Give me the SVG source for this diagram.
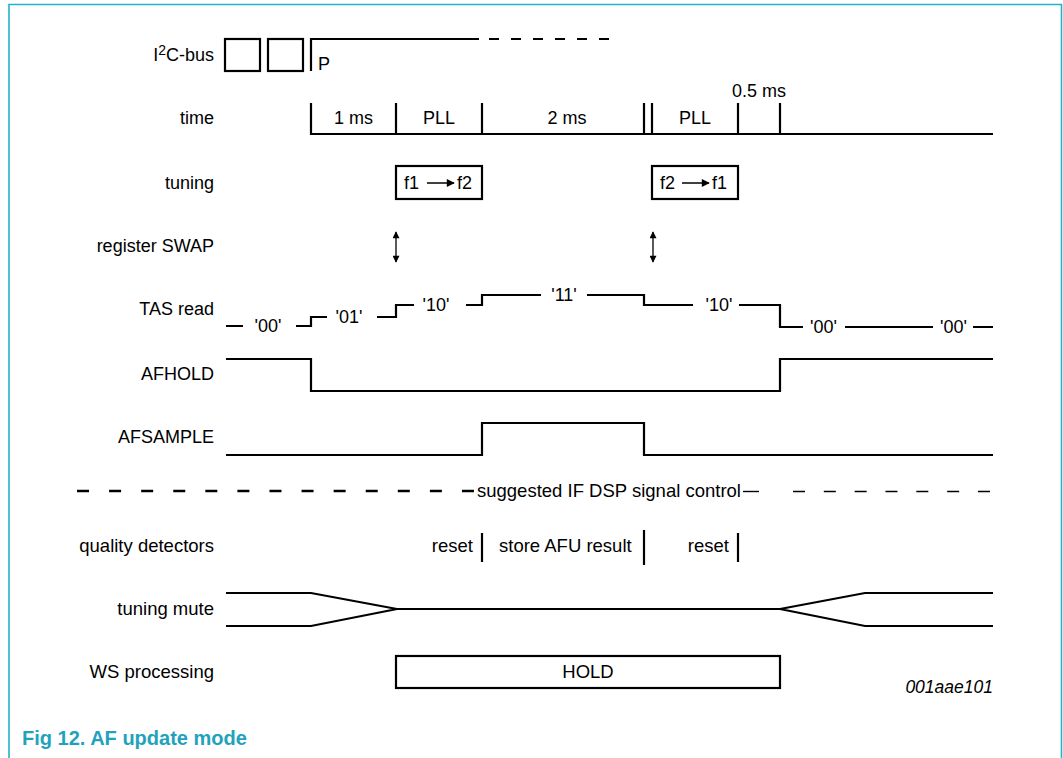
<svg xmlns="http://www.w3.org/2000/svg" width="1063" height="758" viewBox="0 0 1063 758">
<style>
text{font-family:"Liberation Sans",Arial,sans-serif;font-size:18px;fill:#000}
.lbl{text-anchor:end}
.mid{text-anchor:middle}
.low{font-size:18.5px}
.code{font-size:17.5px;font-style:italic;text-anchor:end}
.cap{font-size:20px;font-weight:bold;fill:#1fa3bd}
.sig{fill:none;stroke:#000;stroke-width:2.2}
.box{fill:#fff;stroke:#000;stroke-width:2.2}
.frame{fill:none;stroke:#22b2c9;stroke-width:1.6}
</style>
<defs>
<marker id="ah" viewBox="0 0 10 10" refX="9" refY="5" markerWidth="10" markerHeight="8" markerUnits="userSpaceOnUse" orient="auto-start-reverse">
<path d="M0,0 L10,5 L0,10 z" fill="#000"/>
</marker>
<marker id="ah2" viewBox="0 0 10 10" refX="9" refY="5" markerWidth="8" markerHeight="7" markerUnits="userSpaceOnUse" orient="auto-start-reverse">
<path d="M0,0 L10,5 L0,10 z" fill="#000"/>
</marker>
</defs>
<rect width="1063" height="758" fill="#fff"/>
<path class="frame" d="M9,758 V4.5 H1061.5 V758"/>

<g id="labels">
<text class="lbl" x="214" y="61">I<tspan font-size="14" dy="-6">2</tspan><tspan dy="6">C-bus</tspan></text>
<text class="lbl" x="214" y="124">time</text>
<text class="lbl" x="214" y="189">tuning</text>
<text class="lbl" x="214" y="252">register SWAP</text>
<text class="lbl" x="214" y="315">TAS read</text>
<text class="lbl" x="214" y="380">AFHOLD</text>
<text class="lbl" x="214" y="443">AFSAMPLE</text>
<text class="lbl low" x="214" y="552">quality detectors</text>
<text class="lbl low" x="214" y="615">tuning mute</text>
<text class="lbl low" x="214" y="678">WS processing</text>
</g>

<g id="i2c">
<rect class="sig" x="225" y="39" width="35" height="32"/>
<rect class="sig" x="268" y="39" width="35" height="32"/>
<path class="sig" d="M311,71 V39 H479"/>
<line class="sig" x1="489" y1="39" x2="609" y2="39" stroke-dasharray="10 12"/>
<text x="318" y="70">P</text>
</g>

<g id="time">
<path class="sig" d="M311,103 V134 H993 M396,103 V134 M482,103 V134 M644,103 V134 M652,103 V134 M738,103 V134 M780,103 V134"/>
<text class="mid" x="353.5" y="124">1 ms</text>
<text class="mid" x="439" y="124">PLL</text>
<text class="mid" x="567" y="124">2 ms</text>
<text class="mid" x="695" y="124">PLL</text>
<text class="mid" x="759" y="97">0.5 ms</text>
</g>

<g id="tuning">
<g id="tune1">
<rect class="box" x="396" y="166" width="86" height="33"/>
<text x="404" y="189">f1</text>
<line x1="427" y1="183" x2="454" y2="183" stroke="#000" stroke-width="1.5" marker-end="url(#ah)"/>
<text x="457" y="189">f2</text>
</g>
<g id="tune2">
<rect class="box" x="652" y="166" width="86" height="33"/>
<text x="660" y="189">f2</text>
<line x1="682" y1="183" x2="709" y2="183" stroke="#000" stroke-width="1.5" marker-end="url(#ah)"/>
<text x="712" y="189">f1</text>
</g>
</g>

<g id="swap">
<line x1="396" y1="232" x2="396" y2="262" stroke="#000" stroke-width="1.3" marker-start="url(#ah2)" marker-end="url(#ah2)"/>
<line x1="653" y1="232" x2="653" y2="262" stroke="#000" stroke-width="1.3" marker-start="url(#ah2)" marker-end="url(#ah2)"/>
</g>

<g id="tas">
<path class="sig" d="M226,326 H243 M296,326 H311 V317 H327 M377,317 H396 V305 H414 M466,305 H482 V295 H541 M587,295 H644 V305 H693 M739,305 H780 V327 H803 M845,327 H933 M973,327 H993"/>
<text class="mid" x="268" y="332">'00'</text>
<text class="mid" x="349" y="323">'01'</text>
<text class="mid" x="436" y="311">'10'</text>
<text class="mid" x="564" y="301">'11'</text>
<text class="mid" x="719" y="311">'10'</text>
<text class="mid" x="823.5" y="333">'00'</text>
<text class="mid" x="953.5" y="333">'00'</text>
</g>

<g id="afhold">
<path class="sig" d="M226,359 H311 V391 H780 V359 H993"/>
</g>

<g id="afsample">
<path class="sig" d="M226,455 H482 V423 H644 V455 H993"/>
</g>

<g id="separator">
<line x1="77" y1="491" x2="474" y2="491" stroke="#000" stroke-width="2.5" stroke-dasharray="12 20.08"/>
<text class="low" x="477" y="497">suggested IF DSP signal control</text>
<line x1="743" y1="491.5" x2="759" y2="491.5" stroke="#000" stroke-width="1.4"/>
<line x1="793" y1="491.5" x2="990" y2="491.5" stroke="#000" stroke-width="1.4" stroke-dasharray="12 18.83"/>
</g>

<g id="quality">
<text class="low" x="473" y="552" text-anchor="end">reset</text>
<line class="sig" x1="482" y1="533" x2="482" y2="562"/>
<text class="low" x="499" y="552">store AFU result</text>
<line class="sig" x1="644" y1="530" x2="644" y2="565"/>
<text class="low" x="729" y="552" text-anchor="end">reset</text>
<line class="sig" x1="738" y1="533" x2="738" y2="562"/>
</g>

<g id="mute">
<path class="sig" d="M226,593 H311 L397,609 L311,626 H226 M397,609 H780 M993,593 H865 L780,609 L865,626 H993"/>
</g>

<g id="ws">
<rect class="box" x="396" y="656" width="384" height="32"/>
<text class="mid low" x="588" y="678">HOLD</text>
</g>

<text class="code" x="993" y="693">001aae101</text>
<text class="cap" x="22" y="745">Fig 12. AF update mode</text>
</svg>
